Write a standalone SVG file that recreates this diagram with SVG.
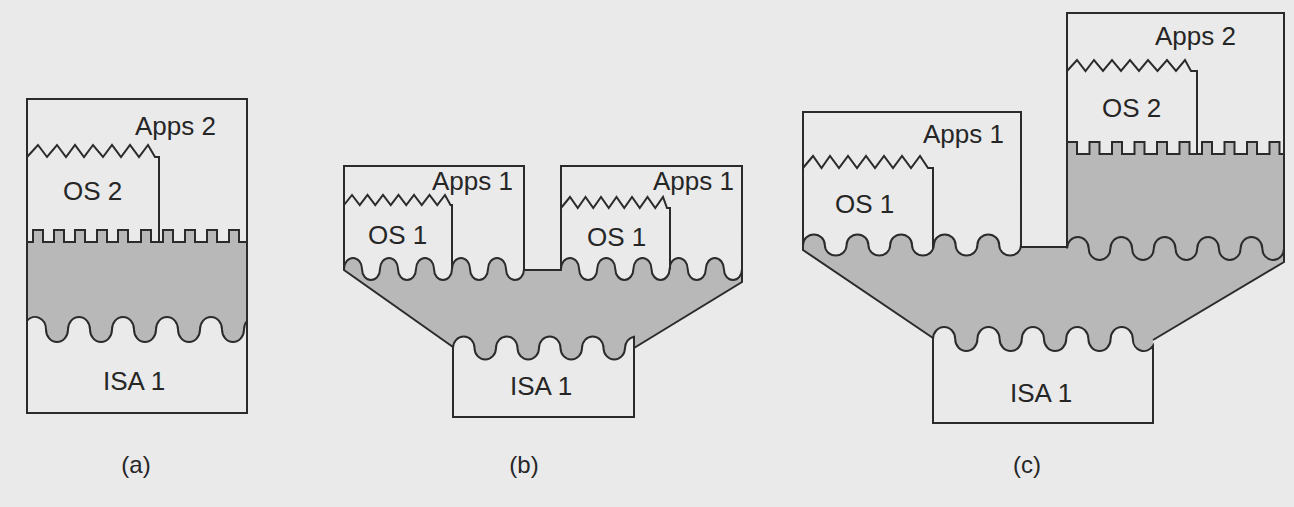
<svg xmlns="http://www.w3.org/2000/svg" width="1294" height="507" viewBox="0 0 1294 507">
<style>
.bg{fill:#eaeaea}
.gray{fill:#b8b8b8;stroke:none}
.grayln{fill:#b8b8b8;stroke:#2b2b2b;stroke-width:2;stroke-linejoin:miter}
.ln{fill:none;stroke:#2b2b2b;stroke-width:2;stroke-linejoin:miter}
.box{fill:#eaeaea;stroke:#2b2b2b;stroke-width:2;stroke-linejoin:miter}
.t{font-family:"Liberation Sans",Arial,sans-serif;font-size:26px;fill:#262626}
.cap{font-family:"Liberation Sans",Arial,sans-serif;font-size:24px;fill:#262626;text-anchor:middle}
</style>
<rect class="bg" x="0" y="0" width="1294" height="507"/>

<g id="fig-a">
  <g id="a-vmm">
    <path class="grayln" d="M 27 320.9 A 11 12.5 0 0 1 46 329.5 a11 12.5 0 0 0 22 0 a11 12.5 0 0 1 22 0 a11 12.5 0 0 0 22 0 a11 12.5 0 0 1 22 0 a11 12.5 0 0 0 22 0 a11 12.5 0 0 1 22 0 a11 12.5 0 0 0 22 0 a11 12.5 0 0 1 22 0 a11 12.5 0 0 0 22 0 A 11 12.5 0 0 1 247 320.9 L 247 242 H 239 V 230 H 229 V 242 H 217 V 230 H 207 V 242 H 195 V 230 H 185 V 242 H 173 V 230 H 163 V 242 H 151 V 230 H 141 V 242 H 128 V 230 H 118 V 242 H 107 V 230 H 97 V 242 H 85 V 230 H 75 V 242 H 64 V 230 H 54 V 242 H 43 V 230 H 33 V 242 H 27 Z"/>
  </g>
  <g id="a-apps2">
    <rect class="ln" x="27" y="99" width="220" height="314"/>
    <text class="t" x="135" y="135">Apps 2</text>
  </g>
  <g id="a-os2">
    <polyline class="ln" points="27,157 38,145 47,157 57,145 66,157 75,145 84,157 93,145 103,157 112,145 121,157 130,145 139,157 148,145 155,157 159,157 159,242"/>
    <text class="t" x="63" y="200">OS 2</text>
  </g>
  <g id="a-isa1">
    <text class="t" x="103" y="390">ISA 1</text>
  </g>
</g>

<g id="fig-b">
  <g id="b-vmm">
    <path class="gray" d="M 344 250 H 524 V 270 H 561 V 250 H 742 V 282 L 634 348 V 362 H 453 V 347 L 344 270 Z"/>
    <polyline class="ln" points="344,268 344,270 453,347"/>
    <polyline class="ln" points="742,268 742,282 634,348"/>
  </g>
  <g id="b-vm1-left">
    <path class="box" d="M 344 269 a9 11 0 0 1 18 0 a9 11 0 0 0 18 0 a9 11 0 0 1 18 0 a9 11 0 0 0 18 0 a9 11 0 0 1 18 0 a9 11 0 0 0 18 0 a9 11 0 0 1 18 0 a9 11 0 0 0 18 0 a9 11 0 0 1 18 0 a9 11 0 0 0 18 0 L 524 166 H 344 Z"/>
    <polyline class="ln" points="344,205 352,195 359.75,205 367.5,195 375.25,205 383,195 390.75,205 398.5,195 406.25,205 414,195 421.75,205 429.5,195 437.25,205 445,195 450.5,205 452,205 452,269"/>
    <text class="t" x="432" y="190">Apps 1</text>
    <text class="t" x="368" y="244">OS 1</text>
  </g>
  <g id="b-vm1-right">
    <path class="box" d="M 561 269 a9.05 11 0 0 1 18.1 0 a9.05 11 0 0 0 18.1 0 a9.05 11 0 0 1 18.1 0 a9.05 11 0 0 0 18.1 0 a9.05 11 0 0 1 18.1 0 a9.05 11 0 0 0 18.1 0 a9.05 11 0 0 1 18.1 0 a9.05 11 0 0 0 18.1 0 a9.05 11 0 0 1 18.1 0 a9.05 11 0 0 0 18.1 0 L 742 166 H 561 Z"/>
    <polyline class="ln" points="561,208 570,197 577.75,208 585.5,197 593.25,208 601,197 608.75,208 616.5,197 624.25,208 632,197 639.75,208 647.5,197 655.25,208 663,197 667,208 670,208 670,269.5"/>
    <text class="t" x="653" y="190">Apps 1</text>
    <text class="t" x="587" y="246">OS 1</text>
  </g>
  <g id="b-gap">
    <polyline class="ln" points="524,269 524,270 561,270 561,269"/>
  </g>
  <g id="b-isa1">
    <path class="box" d="M 453 348 a10.75 11.5 0 0 1 21.5 0 a10.75 11.5 0 0 0 21.5 0 a10.75 11.5 0 0 1 21.5 0 a10.75 11.5 0 0 0 21.5 0 a10.75 11.5 0 0 1 21.5 0 a10.75 11.5 0 0 0 21.5 0 a10.75 11.5 0 0 1 21.5 0 a10.75 11.5 0 0 0 21.5 0 A 10.75 11.5 0 0 1 634 336.65 L 634 417 H 453 Z"/>
    <text class="t" x="510" y="395">ISA 1</text>
  </g>
</g>

<g id="fig-c">
  <g id="c-vmm">
    <path class="gray" d="M 803 230 H 1021 V 247 H 1067 V 142 H 1077 V 154 H 1089.5 V 142 H 1099.5 V 154 H 1112 V 142 H 1122 V 154 H 1134.5 V 142 H 1144.5 V 154 H 1157 V 142 H 1167 V 154 H 1179.5 V 142 H 1189.5 V 154 H 1202 V 142 H 1212 V 154 H 1224.5 V 142 H 1234.5 V 154 H 1247 V 142 H 1257 V 154 H 1269.5 V 142 H 1279.5 V 154 H 1284 V 262 L 1153 340 V 358 H 933 V 338 L 803 250 Z"/>
    <polyline class="ln" points="803,244 803,250 933,338"/>
    <path class="ln" d="M 1067 148 H 1067 M 1067 142 H 1077 V 154 H 1089.5 V 142 H 1099.5 V 154 H 1112 V 142 H 1122 V 154 H 1134.5 V 142 H 1144.5 V 154 H 1157 V 142 H 1167 V 154 H 1179.5 V 142 H 1189.5 V 154 H 1202 V 142 H 1212 V 154 H 1224.5 V 142 H 1234.5 V 154 H 1247 V 142 H 1257 V 154 H 1269.5 V 142 H 1279.5 V 154 H 1284"/>
    <path class="ln" d="M 1067 248.5 a10.85 11.5 0 0 1 21.7 0 a10.85 11.5 0 0 0 21.7 0 a10.85 11.5 0 0 1 21.7 0 a10.85 11.5 0 0 0 21.7 0 a10.85 11.5 0 0 1 21.7 0 a10.85 11.5 0 0 0 21.7 0 a10.85 11.5 0 0 1 21.7 0 a10.85 11.5 0 0 0 21.7 0 a10.85 11.5 0 0 1 21.7 0 a10.85 11.5 0 0 0 21.7 0"/>
  </g>
  <g id="c-vm2">
    <polyline class="ln" points="1067,247 1067,13 1284,13 1284,262 1153,340"/>
    <polyline class="ln" points="1067,71 1077,60 1085.5,71 1094,60 1103,71 1112,60 1121,71 1130,60 1139,71 1148,60 1157.5,71 1167,60 1176,71 1185,60 1191,71 1197,71 1197,154"/>
    <text class="t" x="1155" y="45">Apps 2</text>
    <text class="t" x="1102" y="117">OS 2</text>
  </g>
  <g id="c-vm1">
    <path class="box" d="M 803 245 a10.9 10.5 0 0 1 21.8 0 a10.9 10.5 0 0 0 21.8 0 a10.9 10.5 0 0 1 21.8 0 a10.9 10.5 0 0 0 21.8 0 a10.9 10.5 0 0 1 21.8 0 a10.9 10.5 0 0 0 21.8 0 a10.9 10.5 0 0 1 21.8 0 a10.9 10.5 0 0 0 21.8 0 a10.9 10.5 0 0 1 21.8 0 a10.9 10.5 0 0 0 21.8 0 L 1021 112 H 803 Z"/>
    <polyline class="ln" points="803,168 813,156 821.5,168 830,156 839,168 848,156 857,168 866,156 875,168 884,156 893,168 902,156 911,168 920,156 928,168 933,168 933,249"/>
    <text class="t" x="923" y="143">Apps 1</text>
    <text class="t" x="835" y="213">OS 1</text>
  </g>
  <g id="c-gap">
    <polyline class="ln" points="1021,244 1021,247 1067,247"/>
  </g>
  <g id="c-isa1">
    <path class="box" d="M 933 339 a11.1 12 0 0 1 22.2 0 a11.1 12 0 0 0 22.2 0 a11.1 12 0 0 1 22.2 0 a11.1 12 0 0 0 22.2 0 a11.1 12 0 0 1 22.2 0 a11.1 12 0 0 0 22.2 0 a11.1 12 0 0 1 22.2 0 a11.1 12 0 0 0 22.2 0 a11.1 12 0 0 1 22.2 0 A 11.1 12 0 0 0 1153 345.9 L 1153 423 H 933 Z"/>
    <text class="t" x="1010" y="402">ISA 1</text>
  </g>
</g>

<g id="connectors"/>

<g id="captions">
  <text class="cap" x="136" y="473">(a)</text>
  <text class="cap" x="524" y="473">(b)</text>
  <text class="cap" x="1027" y="473">(c)</text>
</g>
</svg>
